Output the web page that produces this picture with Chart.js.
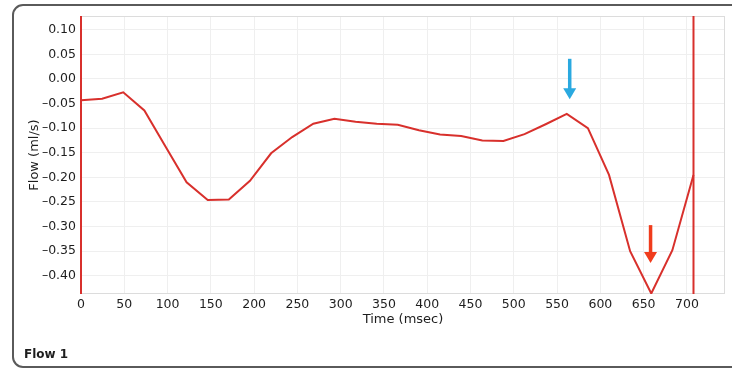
<!DOCTYPE html>
<html>
<head>
    <title>Flow 1</title>
    <script src="https://cdn.jsdelivr.net/npm/chart.js"></script>
    <style>
        body { margin: 0; background: #ffffff; }
        .box { width: 732px; height: 369px; position: relative; }
    </style>
</head>
<body>
    <div class="box">
        <canvas id="grafico"></canvas>
    </div>

    <script>
        // frame times (msec) and flow values (ml/s)
        var times = [0, 24.4, 48.8, 73.2, 97.6, 122, 146.4, 170.8, 195.2, 219.6,
            244, 268.4, 292.8, 317.2, 341.6, 366, 390.4, 414.8, 439.2, 463.6,
            488, 512.4, 536.8, 561.2, 585.6, 610, 634.4, 658.8, 683.2, 707.6];
        var flows = [-0.043, -0.040, -0.027, -0.064, -0.137, -0.210, -0.246, -0.245, -0.207, -0.151,
            -0.118, -0.091, -0.081, -0.087, -0.091, -0.093, -0.104, -0.113, -0.116, -0.125,
            -0.126, -0.112, -0.092, -0.071, -0.100, -0.195, -0.350, -0.436, -0.348, -0.195];

        // vertical cursor lines
        var markerTimes = [0, 707.6];

        // arrows (time, top value, tip value, colour)
        var arrowTimes = [564.6, 658];
        var arrowTops = [0.041, -0.297];
        var arrowTips = [-0.041, -0.374];
        var arrowColors = ['#2aa9e0', '#f03c1c'];

        var xTicks = [0, 50, 100, 150, 200, 250, 300, 350, 400, 450, 500, 550, 600, 650, 700];
        var yTicks = [0.10, 0.05, 0.00, -0.05, -0.10, -0.15, -0.20, -0.25, -0.30, -0.35, -0.40];

        var xMin = 0, xMax = 744;
        var yMin = -0.437, yMax = 0.128;

        var corRed = '#d8302c';
        var corTexto = '#1e1e1e';
        var fonte = 'DejaVu Sans';

        var pontos = times.map(function (t, i) { return { x: t, y: flows[i] }; });

        var datasets = [{
            data: pontos,
            borderColor: corRed,
            borderWidth: 2,
            pointRadius: 0,
            tension: 0,
            fill: false
        }];
        markerTimes.forEach(function (t) {
            datasets.push({
                data: [{ x: t, y: yMin }, { x: t, y: yMax }],
                borderColor: corRed,
                borderWidth: 2,
                pointRadius: 0,
                clip: false,
                fill: false
            });
        });

        var moldura = {
            id: 'moldura',
            beforeDraw: function (chart) {
                var c = chart.ctx;
                c.save();
                c.fillStyle = '#ffffff';
                c.fillRect(0, 0, chart.width, chart.height);
                // outer panel
                c.strokeStyle = '#5a5a5a';
                c.lineWidth = 2;
                c.beginPath();
                c.roundRect(13, 5, 740, 362, 10);
                c.stroke();
                c.fillStyle = corTexto;
                c.font = 'bold 12px "' + fonte + '"';
                c.textBaseline = 'middle';
                c.fillText('Flow 1', 24, 355);
                c.restore();
            },
            beforeDatasetsDraw: function (chart) {
                var a = chart.chartArea;
                var c = chart.ctx;
                c.save();
                c.strokeStyle = '#dcdcdc';
                c.lineWidth = 1;
                c.strokeRect(a.left + 0.5, a.top + 0.5, a.right - a.left - 1, a.bottom - a.top - 1);
                c.restore();
            },
            afterDatasetsDraw: function (chart) {
                var c = chart.ctx;
                var sx = chart.scales.x, sy = chart.scales.y;
                c.save();
                arrowTimes.forEach(function (t, i) {
                    var x = sx.getPixelForValue(t);
                    var yTop = sy.getPixelForValue(arrowTops[i]);
                    var yTip = sy.getPixelForValue(arrowTips[i]);
                    var cab = 11;
                    c.strokeStyle = arrowColors[i];
                    c.fillStyle = arrowColors[i];
                    c.lineWidth = 3.5;
                    c.beginPath();
                    c.moveTo(x, yTop);
                    c.lineTo(x, yTip - cab + 1);
                    c.stroke();
                    c.beginPath();
                    c.moveTo(x - 6.5, yTip - cab);
                    c.lineTo(x + 6.5, yTip - cab);
                    c.lineTo(x, yTip);
                    c.closePath();
                    c.fill();
                });
                c.restore();
            }
        };

        var ctx = document.getElementById('grafico').getContext('2d');
        var grafico = new Chart(ctx, {
            type: 'line',
            data: { datasets: datasets },
            options: {
                responsive: true,
                maintainAspectRatio: false,
                animation: false,
                layout: { padding: { top: 16, right: 7, left: 23, bottom: 41 } },
                plugins: {
                    legend: { display: false },
                    tooltip: { enabled: false }
                },
                scales: {
                    x: {
                        type: 'linear',
                        min: xMin,
                        max: xMax,
                        afterBuildTicks: function (axis) {
                            axis.ticks = xTicks.map(function (v) { return { value: v }; });
                        },
                        afterFit: function (axis) { axis.height = 34; },
                        grid: { color: '#efefef', drawTicks: false },
                        border: { display: false },
                        ticks: {
                            padding: 3,
                            color: corTexto,
                            maxRotation: 0,
                            font: { family: fonte, size: 12.5 },
                            callback: function (v) { return String(v); }
                        },
                        title: {
                            display: true,
                            text: 'Time (msec)',
                            color: corTexto,
                            padding: { top: 0, bottom: 1 },
                            font: { family: fonte, size: 13 }
                        }
                    },
                    y: {
                        type: 'linear',
                        min: yMin,
                        max: yMax,
                        afterBuildTicks: function (axis) {
                            axis.ticks = yTicks.map(function (v) { return { value: v }; });
                        },
                        afterFit: function (axis) { axis.width = 58; },
                        grid: { color: '#efefef', drawTicks: false },
                        border: { display: false },
                        ticks: {
                            padding: 5,
                            color: corTexto,
                            font: { family: fonte, size: 12.5 },
                            callback: function (v) {
                                var s = Math.abs(v).toFixed(2);
                                return v < -0.0001 ? '\u2013' + s : s;
                            }
                        },
                        title: {
                            display: true,
                            text: 'Flow (ml/s)',
                            color: corTexto,
                            padding: { top: 4, bottom: 0 },
                            font: { family: fonte, size: 13 }
                        }
                    }
                }
            },
            plugins: [moldura]
        });
    </script>
</body>
</html>
